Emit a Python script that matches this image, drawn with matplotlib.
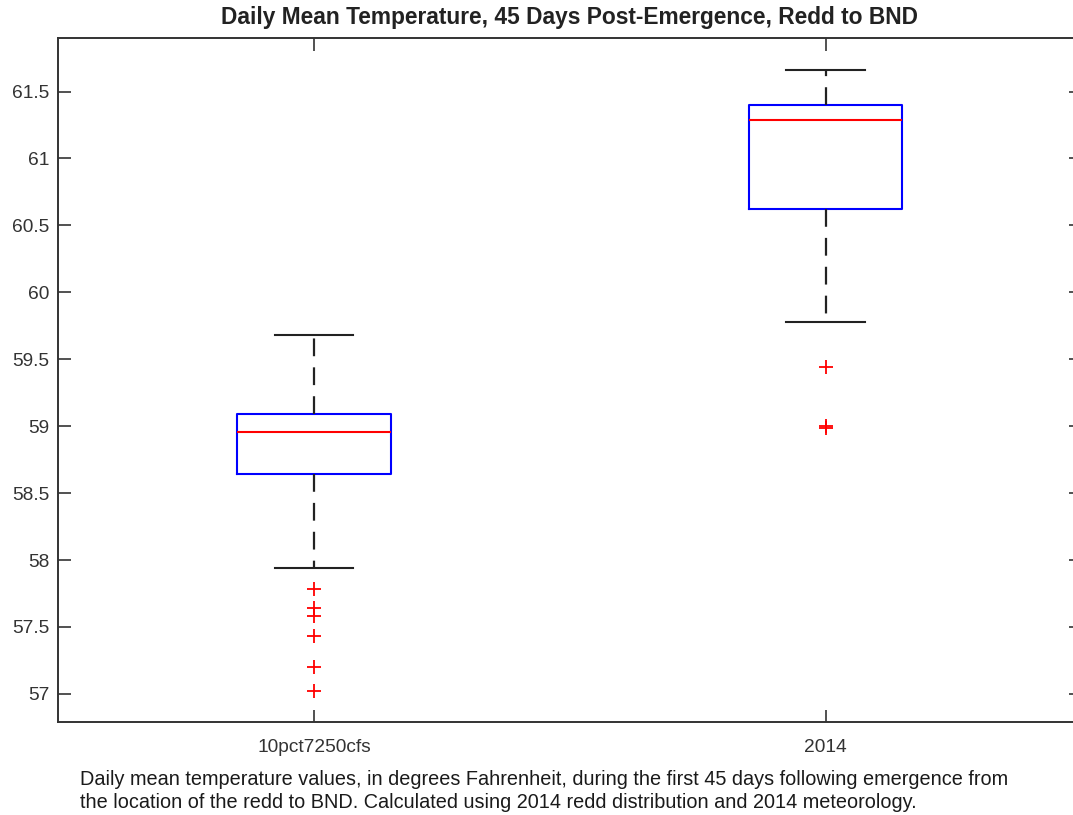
import matplotlib
matplotlib.use("Agg")
import matplotlib.pyplot as plt

plt.rcParams['font.family'] = ['Liberation Sans', 'DejaVu Sans']

# ==============================
# Data
# ==============================
labels = ["10pct7250cfs", "2014"]
whisker_low = [57.94, 59.78]
q1 = [58.645, 60.62]
median = [58.96, 61.29]
q3 = [59.09, 61.40]
whisker_high = [59.68, 61.66]
outliers = [
    [57.78, 57.64, 57.58, 57.43, 57.20, 57.02],
    [59.44, 59.00, 58.99],
]

title = "Daily Mean Temperature, 45 Days Post-Emergence, Redd to BND"
caption = ("Daily mean temperature values, in degrees Fahrenheit, during the first 45 days following emergence from\n"
           "the location of the redd to BND. Calculated using 2014 redd distribution and 2014 meteorology.")

stats = []
for i in range(len(labels)):
    stats.append(dict(label=labels[i], whislo=whisker_low[i], q1=q1[i], med=median[i],
                      q3=q3[i], whishi=whisker_high[i], fliers=outliers[i]))

# ==============================
# Figure
# ==============================
fig = plt.figure(figsize=(10.73, 8.15), dpi=100)
ax = fig.add_axes([0.0541, 0.1141, 0.9538, 0.8393])

ax.bxp(
    stats,
    positions=[1, 2],
    widths=0.30,
    capwidths=0.153,
    boxprops=dict(color='#0000ff', linewidth=1.5),
    medianprops=dict(color='#ff0000', linewidth=1.5),
    whiskerprops=dict(color='#222222', linestyle=(0, (8, 5)), linewidth=1.6),
    capprops=dict(color='#222222', linewidth=1.5),
    flierprops=dict(marker='+', markeredgecolor='#ff0000', markersize=10, markeredgewidth=1.3,
                    linestyle='none'),
)

ax.set_xlim(0.5, 2.5)
ax.set_ylim(56.79, 61.90)
ax.set_yticks([57, 57.5, 58, 58.5, 59, 59.5, 60, 60.5, 61, 61.5])
ax.set_yticklabels(["57", "57.5", "58", "58.5", "59", "59.5", "60", "60.5", "61", "61.5"])
ax.set_xticks([1, 2])
ax.set_xticklabels(labels)

ax.tick_params(direction='in', length=9, width=1.2, colors='#333333', labelcolor='#333333',
               labelsize=13.8, top=True, right=True)
ax.tick_params(axis='y', pad=6)
ax.tick_params(axis='x', pad=12)
for s in ax.spines.values():
    s.set_color('#333333')
    s.set_linewidth(1.4)

ax.set_title(title, fontsize=16.4, fontweight='bold', color='#222222', pad=10)

fig.text(80 / 1073, 1 - 791 / 815, caption, fontsize=14.3, color='#1a1a1a',
         va='center', ha='left', linespacing=1.3)

fig.savefig("out.png", dpi=100)
